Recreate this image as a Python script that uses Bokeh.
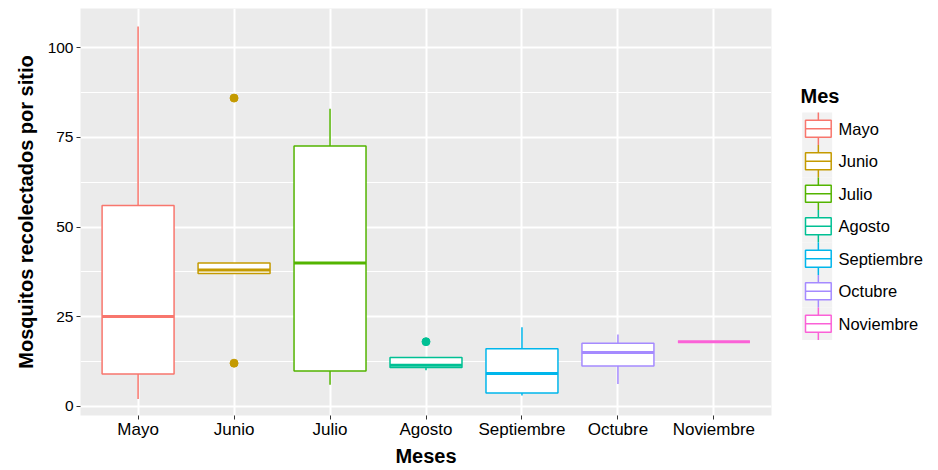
from bokeh.plotting import figure
from bokeh.models import Range1d, FixedTicker, ColumnDataSource
from bokeh.layouts import row
from bokeh.embed import file_html
from bokeh.resources import INLINE
from bokeh.core.properties import value

# ---- data ----
months = ["Mayo", "Junio", "Julio", "Agosto", "Septiembre", "Octubre", "Noviembre"]
colors = ["#F8766D", "#C49A00", "#53B400", "#00C094", "#00B6EB", "#A58AFF", "#FB61D7"]
lower_whisker = [2, 37, 6, 10, 3, 6.2, 18]
q1 = [9, 37, 9.8, 10.8, 3.7, 11.2, 18]
median = [25, 38, 40, 11.4, 9.1, 15, 18]
q3 = [56, 40, 72.6, 13.6, 16, 17.6, 18]
upper_whisker = [106, 40, 83, 13.6, 22, 20, 18]
outlier_month = ["Junio", "Junio", "Agosto"]
outlier_value = [86, 12, 18]
y_ticks = [0, 25, 50, 75, 100]
y_minor_ticks = [12.5, 37.5, 62.5, 87.5]

FONT = "Liberation Sans"
BOX_W = 0.75

# layout (screen pixels)
TOTAL_W, TOTAL_H = 938, 470
MAIN_W = 788
TOP, BOTTOM = 8, 55

xpos = [i + 1 for i in range(len(months))]
src = ColumnDataSource(dict(
    x=xpos, left=[x - BOX_W / 2 for x in xpos], right=[x + BOX_W / 2 for x in xpos],
    lo=lower_whisker, q1=q1, med=median, q3=q3, hi=upper_whisker, color=colors,
))
out_src = ColumnDataSource(dict(
    x=[months.index(m) + 1 for m in outlier_month], y=outlier_value,
    color=[colors[months.index(m)] for m in outlier_month],
))

p = figure(width=MAIN_W, height=TOTAL_H, output_backend="svg", toolbar_location=None,
           x_range=Range1d(0.4, 7.6), y_range=Range1d(-2.6, 111),
           min_border_left=80, min_border_right=17, min_border_top=TOP, min_border_bottom=BOTTOM)
p.background_fill_color = "#EBEBEB"
p.outline_line_color = None

# whiskers
p.segment(x0="x", y0="q3", x1="x", y1="hi", source=src, line_color="color", line_width=1.5)
p.segment(x0="x", y0="lo", x1="x", y1="q1", source=src, line_color="color", line_width=1.5)
# boxes
p.vbar(x="x", width=BOX_W, bottom="q1", top="q3", source=src, fill_color="white",
       line_color="color", line_width=1.5)
# medians
p.segment(x0="left", y0="med", x1="right", y1="med", source=src, line_color="color", line_width=3)
# outliers
p.scatter(x="x", y="y", source=out_src, size=8, fill_color="color", line_color="color")

# axes
p.xaxis.ticker = FixedTicker(ticks=xpos)
p.xaxis.major_label_overrides = {x: m for x, m in zip(xpos, months)}
p.yaxis.ticker = FixedTicker(ticks=y_ticks, minor_ticks=y_minor_ticks)
for ax in (p.xaxis[0], p.yaxis[0]):
    ax.axis_line_color = None
    ax.major_tick_in = 0
    ax.major_tick_out = 4
    ax.major_tick_line_color = "#333333"
    ax.minor_tick_line_color = None
    ax.major_label_text_font = FONT
    ax.major_label_text_color = "black"
    ax.axis_label_text_font = FONT
    ax.axis_label_text_font_size = "20px"
    ax.axis_label_text_font_style = "bold"
    ax.axis_label_text_color = "black"
p.xaxis.major_label_text_font_size = "17px"
p.yaxis.major_label_text_font_size = "15.5px"
p.xaxis.axis_label = "Meses"
p.yaxis.axis_label = "Mosquitos recolectados por sitio"
p.xaxis.major_label_standoff = 0
p.xaxis.axis_label_standoff = 3
p.yaxis.major_label_standoff = 3
p.yaxis.axis_label_standoff = 8

# grid
p.xgrid.grid_line_color = "white"
p.xgrid.grid_line_width = 2
p.ygrid.grid_line_color = "white"
p.ygrid.grid_line_width = 2
p.ygrid.minor_grid_line_color = "white"
p.ygrid.minor_grid_line_width = 1

# ---- legend panel (ranges in screen pixels) ----
LW = TOTAL_W - MAIN_W
lg = figure(width=LW, height=TOTAL_H, output_backend="svg", toolbar_location=None,
            x_range=Range1d(MAIN_W, TOTAL_W), y_range=Range1d(TOTAL_H - BOTTOM, TOP),
            x_axis_type=None, y_axis_type=None,
            min_border_left=0, min_border_right=0, min_border_top=TOP, min_border_bottom=BOTTOM)
lg.outline_line_color = None
lg.background_fill_color = "white"
lg.border_fill_color = "white"

ROW_H = 32.5
row0 = 128.3
yc = [row0 + i * ROW_H for i in range(len(months))]
kx = 817.85
leg = ColumnDataSource(dict(
    y=yc, top=[y - ROW_H / 2 for y in yc], bot=[y + ROW_H / 2 for y in yc],
    color=colors, label=months,
))
lg.rect(x=816.7, y="y", width=30, height=ROW_H, source=leg, fill_color="#F2F2F2", line_color=None)
lg.segment(x0=kx, y0="top", x1=kx, y1="bot", source=leg, line_color="color", line_width=1.5)
lg.rect(x=kx, y="y", width=25.7, height=17, source=leg, fill_color="white",
        line_color="color", line_width=1.5)
lg.segment(x0=kx - 12.85, y0="y", x1=kx + 12.85, y1="y", source=leg, line_color="color", line_width=1.5)
lg.text(x=838, y="y", text="label", source=leg, text_font=value(FONT), text_font_size="16.5px",
        text_baseline="middle", text_align="left", text_color="black")
lg.text(x=[800], y=[95], text=["Mes"], text_font=value(FONT), text_font_size="20px",
        text_font_style="bold", text_baseline="middle", text_align="left", text_color="black")

layout = row(p, lg)
open("out.html", "w").write(file_html(layout, INLINE))
